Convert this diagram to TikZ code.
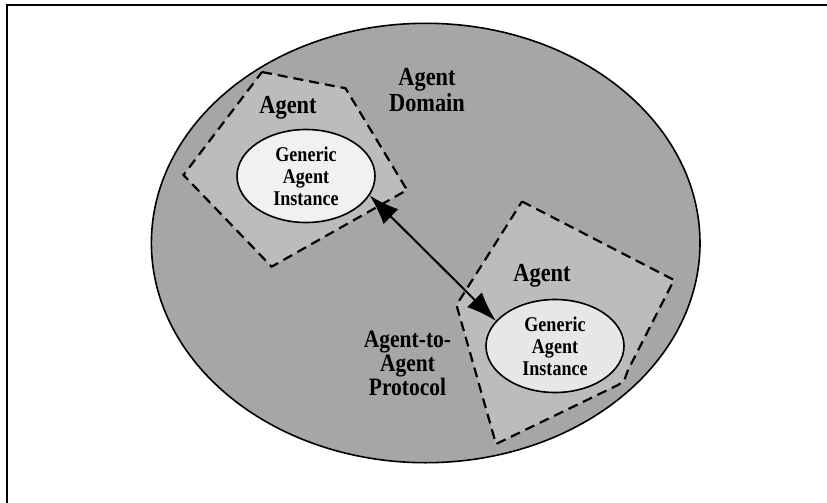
\documentclass[tikz,border=0pt]{standalone}
\usepackage{fontspec}
\newfontfamily\labfont{Liberation Serif}[FakeStretch=0.86]
\usetikzlibrary{shapes.geometric,arrows.meta}
\definecolor{domaingray}{HTML}{A6A6A6}
\definecolor{agentgray}{HTML}{BCBCBC}
\definecolor{instfill}{HTML}{F1F1F1}
\definecolor{instfillb}{HTML}{E7E7E7}
\begin{document}
\begin{tikzpicture}[x=1pt,y=-1pt,
  domainarea/.style={draw=black, line width=1.6pt, fill=domaingray},
  agentzone/.style={draw=black, line width=2.2pt, dash pattern=on 10pt off 6pt, fill=agentgray},
  instance/.style={ellipse, draw=black, line width=1.6pt, inner sep=0pt,
    minimum width=138pt, minimum height=93pt, align=center,
    font=\labfont\bfseries\fontsize{21}{22}\selectfont},
  biglabel/.style={inner sep=0pt, align=center,
    font=\labfont\bfseries\fontsize{26}{26.5}\selectfont},
  link/.style={line width=2pt,
    {Latex[length=30pt,width=21pt]}-{Latex[length=30pt,width=21pt]}}
]
\useasboundingbox (0,0) rectangle (827,503);

% page frame (top and left edges)
\draw[line width=2pt] (7.3,510) -- (7.3,4.7) -- (830,4.7);

% the agent domain
\draw[domainarea] (425.7,243) ellipse [x radius=274.3pt, y radius=219.7pt];

% the two agents
\draw[agentzone] (262,72) -- (345.5,88.3) -- (407,190) -- (271.6,266.7)
  -- (183.5,175) -- cycle;
\draw[agentzone] (522,201.5) -- (674,280) -- (628,370) -- (624,381)
  -- (618,385) -- (496,444) -- (456.5,305) -- cycle;

% generic agent instances
\node[instance, fill=instfill] (inst1) at (306,176) {Generic\\Agent\\Instance};
\node[instance, fill=instfillb] (inst2) at (555,346) {Generic\\Agent\\Instance};

% agent-to-agent protocol link
\draw[link] (inst1.-17) -- (inst2.157);

% labels
\node[biglabel] (domlabel) at (427,90) {Agent\\Domain};
\node[biglabel, anchor=base] (agentone) at (288,113.3) {Agent};
\node[biglabel, anchor=base] (agenttwo) at (542,281.7) {Agent};
\node[biglabel, font=\labfont\bfseries\fontsize{25}{24}\selectfont]
  (protolabel) at (407.5,363) {Agent-to-\\Agent\\Protocol};
\end{tikzpicture}
\end{document}
